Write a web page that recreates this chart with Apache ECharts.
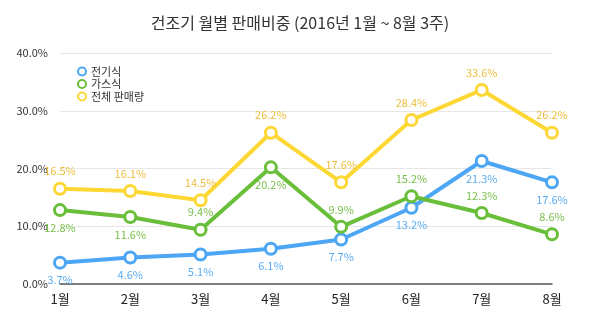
<!DOCTYPE html>
<html>
<head>
<meta charset="utf-8">
<script src="https://cdn.jsdelivr.net/npm/echarts@6/dist/echarts.min.js"></script>
<style>
html,body{margin:0;padding:0;background:#fff;}
#c{width:600px;height:328px;}
</style>
</head>
<body>
<div id="c"></div>
<script>
const categories = ['1월','2월','3월','4월','5월','6월','7월','8월'];
const electric = [3.7, 4.6, 5.1, 6.1, 7.7, 13.2, 21.3, 17.6];
const gas = [12.8, 11.6, 9.4, 20.2, 9.9, 15.2, 12.3, 8.6];
const total = [16.5, 16.1, 14.5, 26.2, 17.6, 28.4, 33.6, 26.2];
const seriesNames = ['전기식', '가스식', '전체 판매량'];
const yTicks = [0, 10, 20, 30, 40];

const font = '"Noto Sans CJK KR", "Noto Sans", sans-serif';
const gasBelow = new Set([0, 1, 3]);

function mk(name, data, color, labelColor, posFn) {
  return {
    name: name,
    type: 'line',
    data: data.map((v, i) => ({ value: v, label: { position: posFn(i) } })),
    symbol: 'circle',
    symbolSize: 11,
    lineStyle: { width: 4, color: color },
    itemStyle: { color: '#fff', borderColor: color, borderWidth: 3 },
    label: {
      show: true,
      color: labelColor,
      fontSize: 11,
      fontFamily: font,
      formatter: p => p.value.toFixed(1) + '%'
    },
    emphasis: { disabled: true },
    animation: false
  };
}

const chart = echarts.init(document.getElementById('c'));
chart.setOption({
  backgroundColor: '#fff',
  title: {
    text: '건조기 월별 판매비중 (2016년 1월 ~ 8월 3주)',
    left: 'center',
    top: 10,
    textStyle: { fontSize: 16, fontWeight: 'normal', color: '#333', fontFamily: font }
  },
  legend: {
    orient: 'vertical',
    left: 72,
    top: 61,
    itemWidth: 8,
    itemHeight: 8,
    itemGap: 1.5,
    icon: 'circle',
    itemStyle: { borderWidth: 2 },
    textStyle: { fontSize: 11, color: '#333', fontFamily: font },
    data: seriesNames
  },
  grid: { left: 60, right: 48, top: 53, bottom: 44 },
  xAxis: {
    type: 'category',
    data: categories,
    boundaryGap: false,
    axisLine: { lineStyle: { color: '#555', width: 1.5 } },
    axisTick: { show: false },
    axisLabel: { fontSize: 13, color: '#222', margin: 9, fontFamily: font },
    splitLine: { show: false }
  },
  yAxis: {
    type: 'value',
    min: yTicks[0],
    max: yTicks[yTicks.length - 1],
    interval: yTicks[1] - yTicks[0],
    axisLine: { show: false },
    axisTick: { show: false },
    axisLabel: { fontSize: 11, color: '#333', margin: 12, fontFamily: font, formatter: v => v.toFixed(1) + '%' },
    splitLine: { lineStyle: { color: '#e6e6e6', width: 1 } }
  },
  series: [
    mk(seriesNames[0], electric, '#4da6f3', '#5aacf2', () => 'bottom'),
    mk(seriesNames[1], gas, '#6abf3a', '#78bf4a', i => gasBelow.has(i) ? 'bottom' : 'top'),
    mk(seriesNames[2], total, '#fdd835', '#ecbd3c', () => 'top')
  ]
});
</script>
</body>
</html>
